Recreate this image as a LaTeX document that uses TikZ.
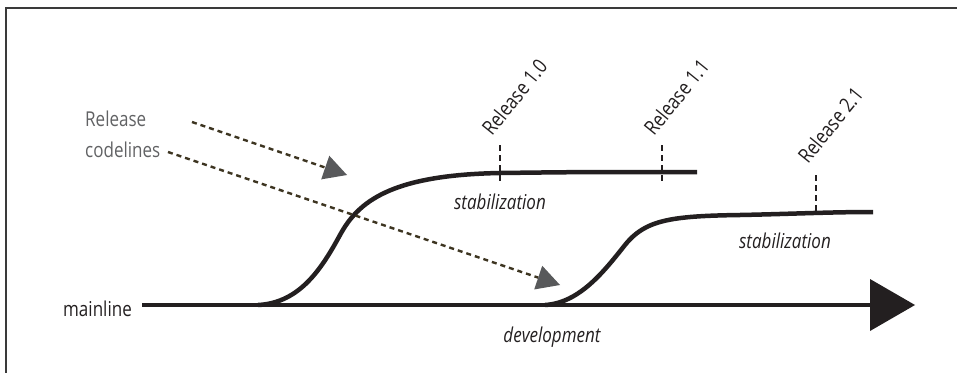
\documentclass[tikz,border=0pt]{standalone}
\usepackage{fontspec}
\setmainfont{Open Sans}[FakeStretch=0.83]
\usetikzlibrary{arrows.meta}
\definecolor{ink}{HTML}{231F20}
\definecolor{labelgray}{HTML}{616264}
\definecolor{pointer}{HTML}{3D3521}
\definecolor{headgray}{HTML}{58595B}
\definecolor{framegray}{HTML}{3A3A3A}

\begin{document}
\begin{tikzpicture}[x=1pt,y=-1pt,
  txt/.style={font=\fontsize{20.5}{24}\selectfont, inner sep=0pt, text=ink},
  codeline/.style={draw=ink, line width=4.5pt, line cap=butt},
  marker/.style={draw=ink, line width=2pt, dash pattern=on 6pt off 4pt},
  pointer/.style={draw=pointer, line width=2.4pt, dash pattern=on 5pt off 4pt,
    -{Triangle[length=23pt,width=25pt,line width=0pt,fill=headgray,color=headgray]}},
  release/.style={txt, rotate=51, anchor=base west},
  phase/.style={txt, font=\fontsize{20.5}{24}\selectfont\itshape, anchor=base},
  note/.style={txt, anchor=base west, text=labelgray}]

\useasboundingbox (0,0) rectangle (957,372);

% frame
\draw[framegray, line width=1.2pt] (6,380) -- (6,8) -- (965,8);

% labels
\node[txt, anchor=base east] (mainlbl) at (132,316) {mainline};
\node[note] (rel) at (85,126) {Release};
\node[note] (codel) at (85,157) {codelines};
\node[phase] (stab1) at (500,209) {stabilization};
\node[phase] (stab2) at (785,248) {stabilization};
\node[phase] (dev) at (552,342) {development};
\node[release] (r10) at (492,137) {Release 1.0};
\node[release] (r11) at (654,137) {Release 1.1};
\node[release] (r21) at (808,165) {Release 2.1};

% mainline
\coordinate (mstart) at (142,305);
\coordinate (mend) at (915,305);
\draw[codeline, -{Triangle[length=45pt,width=52pt,line width=0pt]}] (mstart) -- (mend);

% release codelines branching off the mainline
\coordinate (b1) at (258,305);
\coordinate (e1) at (697,172);
\draw[codeline] (b1) .. controls (300,303) and (322,268) .. (340,235)
  .. controls (358,202) and (390,175) .. (500,173)
  .. controls (580,172) .. (e1);
\coordinate (b2) at (545,305);
\coordinate (e2) at (873,212);
\draw[codeline] (b2) .. controls (580,303) and (605,270) .. (625,245)
  .. controls (645,220) and (670,216) .. (740,215)
  .. controls (790,214) and (830,212) .. (e2);

% release markers
\coordinate (t10a) at (500,145); \coordinate (t10b) at (500,181);
\coordinate (t11a) at (662,145); \coordinate (t11b) at (662,181);
\coordinate (t21a) at (816,175); \coordinate (t21b) at (816,212);
\draw[marker] (t10a) -- (t10b);
\draw[marker] (t11a) -- (t11b);
\draw[marker] (t21a) -- (t21b);

% pointers from the note
\coordinate (p1a) at (192,122); \coordinate (p1b) at (347,175);
\coordinate (p2a) at (168,152); \coordinate (p2b) at (560,285);
\draw[pointer] (p1a) -- (p1b);
\draw[pointer] (p2a) -- (p2b);
\end{tikzpicture}
\end{document}
